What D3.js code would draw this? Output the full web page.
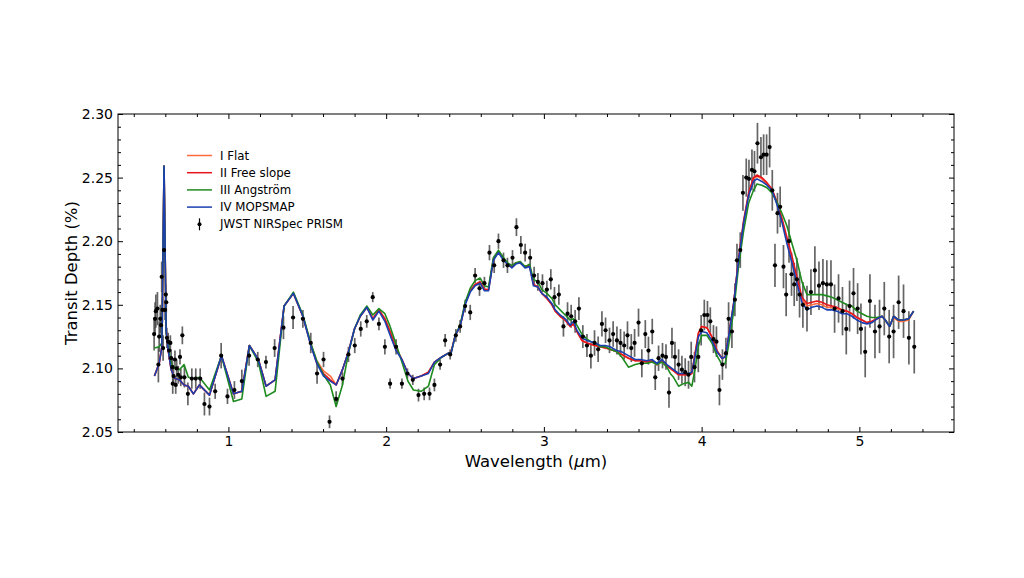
<!DOCTYPE html>
<html>
<head>
<meta charset="utf-8">
<script src="https://cdn.jsdelivr.net/npm/d3@7"></script>
<style>
    body { margin: 0; background: #fff; }
    #chart { width: 1024px; height: 578px; }
    .axis text { font-family: "DejaVu Sans", sans-serif; font-size: 14px; fill: #000; }
    .axis path, .axis line { stroke: #000; }
    .label { font-family: "DejaVu Sans", sans-serif; font-size: 16.5px; fill: #000; }
    .legend text { font-family: "DejaVu Sans", sans-serif; font-size: 11.8px; fill: #000; }
</style>
</head>
<body>
<div id="chart"></div>
<script>

// JWST NIRSpec PRISM data
let dataWave = [
    0.529,0.535,0.540,0.550,0.556,0.561,0.568,0.573,0.577,0.582,
    0.586,0.592,0.598,0.603,0.606,0.610,0.618,0.624,0.632,0.637,
    0.645,0.647,0.652,0.661,0.666,0.672,0.682,0.693,0.698,0.708,
    0.721,0.743,0.768,0.793,0.821,0.848,0.880,0.916,0.954,0.994,
    1.038,1.085,1.131,1.186,1.238,1.293,1.349,1.410,1.472,1.522,
    1.562,1.603,1.641,1.683,1.723,1.761,1.801,1.839,1.877,1.915,
    1.954,1.992,2.025,2.063,2.100,2.135,2.169,2.205,2.241,2.275,
    2.306,2.342,2.374,2.406,2.442,2.469,2.501,2.533,2.564,2.592,
    2.623,2.655,2.685,2.712,2.744,2.769,2.801,2.826,2.854,2.881,
    2.913,2.938,2.962,2.991,3.019,3.044,3.067,3.095,3.124,3.150,
    3.173,3.198,3.222,3.247,3.273,3.298,3.321,3.344,3.368,3.391,
    3.416,3.439,3.463,3.486,3.509,3.530,3.554,3.575,3.600,3.621,
    3.643,3.663,3.687,3.706,3.727,3.752,3.774,3.793,3.812,3.831,
    3.854,3.875,3.896,3.917,3.934,3.955,3.979,3.997,4.017,4.037,
    4.055,4.075,4.094,4.113,4.132,4.154,4.171,4.192,4.211,4.224,
    4.245,4.262,4.283,4.300,4.319,4.335,4.354,4.376,4.393,4.412,
    4.431,4.448,4.465,4.481,4.498,4.519,4.536,4.554,4.570,4.587,
    4.604,4.621,4.642,4.668,4.693,4.718,4.744,4.769,4.794,4.820,
    4.843,4.868,4.893,4.917,4.938,4.963,4.989,5.010,5.037,5.067,
    5.099,5.128,5.158,5.189,5.217,5.249,5.280,5.314,5.348
];
let dataDepth = [
    2.127,2.139,2.145,2.147,2.103,2.125,2.139,2.134,2.172,2.146,
    2.116,2.193,2.146,2.158,2.152,2.124,2.121,2.114,2.120,2.108,
    2.101,2.088,2.094,2.107,2.087,2.100,2.095,2.109,2.093,2.126,
    2.093,2.080,2.092,2.092,2.092,2.072,2.070,2.082,2.110,2.078,
    2.083,2.090,2.110,2.107,2.105,2.116,2.132,2.140,2.139,2.120,
    2.096,2.107,2.058,2.076,2.092,2.111,2.118,2.131,2.137,2.156,
    2.135,2.117,2.088,2.117,2.088,2.096,2.091,2.079,2.080,2.080,
    2.087,2.103,2.122,2.111,2.126,2.133,2.149,2.144,2.173,2.163,
    2.167,2.191,2.181,2.200,2.185,2.181,2.187,2.211,2.197,2.191,
    2.187,2.173,2.168,2.167,2.162,2.170,2.156,2.158,2.133,2.143,
    2.141,2.137,2.147,2.125,2.118,2.110,2.120,2.115,2.135,2.130,
    2.122,2.127,2.122,2.120,2.118,2.126,2.116,2.120,2.136,2.104,
    2.127,2.114,2.129,2.093,2.108,2.110,2.109,2.081,2.120,2.109,
    2.103,2.099,2.097,2.095,2.109,2.101,2.109,2.130,2.142,2.142,
    2.137,2.123,2.121,2.083,2.103,2.112,2.139,2.129,2.154,2.185,
    2.193,2.238,2.250,2.249,2.256,2.255,2.277,2.266,2.268,2.268,
    2.274,2.240,2.181,2.222,2.227,2.180,2.158,2.200,2.174,2.166,
    2.170,2.158,2.150,2.147,2.160,2.177,2.165,2.167,2.166,2.166,
    2.147,2.155,2.145,2.131,2.149,2.159,2.147,2.131,2.113,2.153,
    2.129,2.133,2.147,2.125,2.129,2.152,2.145,2.124,2.117
];
let dataErr = [
    0.013,0.013,0.013,0.013,0.014,0.012,0.011,0.010,0.012,0.010,
    0.010,0.010,0.008,0.008,0.008,0.008,0.007,0.007,0.006,0.007,
    0.006,0.008,0.007,0.007,0.007,0.007,0.007,0.006,0.007,0.007,
    0.008,0.009,0.008,0.008,0.008,0.009,0.007,0.006,0.010,0.006,
    0.007,0.009,0.008,0.006,0.005,0.007,0.009,0.009,0.007,0.008,
    0.008,0.006,0.005,0.006,0.005,0.006,0.006,0.006,0.005,0.004,
    0.005,0.006,0.004,0.006,0.004,0.004,0.004,0.005,0.005,0.005,
    0.005,0.004,0.005,0.004,0.005,0.005,0.005,0.006,0.006,0.006,
    0.005,0.006,0.006,0.006,0.006,0.006,0.006,0.007,0.007,0.007,
    0.007,0.007,0.007,0.007,0.007,0.008,0.008,0.008,0.008,0.009,
    0.009,0.009,0.009,0.009,0.009,0.010,0.010,0.010,0.010,0.010,
    0.010,0.010,0.011,0.011,0.011,0.011,0.011,0.011,0.011,0.011,
    0.011,0.011,0.010,0.010,0.010,0.010,0.010,0.012,0.012,0.012,
    0.012,0.011,0.011,0.011,0.012,0.012,0.012,0.012,0.012,0.011,
    0.011,0.011,0.012,0.012,0.012,0.012,0.013,0.013,0.013,0.013,
    0.014,0.014,0.015,0.015,0.016,0.016,0.016,0.016,0.016,0.016,
    0.016,0.016,0.017,0.016,0.016,0.017,0.017,0.017,0.017,0.017,
    0.017,0.018,0.018,0.018,0.018,0.019,0.019,0.019,0.019,0.019,
    0.019,0.019,0.019,0.020,0.020,0.020,0.020,0.020,0.020,0.021,
    0.021,0.021,0.021,0.021,0.021,0.021,0.021,0.021,0.021
];

// model grid
let modelWave = [
    0.531,0.561,0.578,0.592,0.605,0.620,0.637,0.662,0.689,0.719,
    0.746,0.778,0.816,0.880,0.956,1.032,1.085,1.133,1.190,1.239,
    1.296,1.353,1.412,1.472,1.522,1.560,1.603,1.646,1.683,1.723,
    1.761,1.799,1.836,1.878,1.916,1.954,1.992,2.025,2.063,2.100,
    2.138,2.173,2.222,2.268,2.306,2.353,2.395,2.412,2.438,2.469,
    2.501,2.533,2.564,2.596,2.623,2.649,2.680,2.712,2.744,2.769,
    2.797,2.822,2.850,2.881,2.909,2.934,2.962,2.987,3.019,3.051,
    3.072,3.103,3.135,3.167,3.188,3.209,3.241,3.273,3.298,3.325,
    3.357,3.389,3.420,3.463,3.494,3.536,3.579,3.611,3.653,3.685,
    3.717,3.748,3.780,3.801,3.822,3.854,3.885,3.917,3.938,3.959,
    3.980,4.001,4.033,4.065,4.097,4.129,4.150,4.171,4.203,4.234,
    4.266,4.298,4.329,4.351,4.382,4.414,4.446,4.477,4.509,4.541,
    4.573,4.604,4.636,4.668,4.699,4.731,4.763,4.794,4.826,4.858,
    4.890,4.922,4.953,4.985,5.017,5.048,5.080,5.112,5.144,5.164,
    5.192,5.217,5.249,5.280,5.312,5.344
];
let flatModel = [
    2.094,2.104,2.117,2.259,2.130,2.113,2.099,2.092,2.091,2.087,
    2.086,2.080,2.087,2.079,2.110,2.080,2.082,2.118,2.107,2.086,
    2.091,2.149,2.159,2.141,2.119,2.106,2.098,2.094,2.087,2.099,
    2.113,2.131,2.141,2.148,2.139,2.146,2.139,2.129,2.116,2.107,
    2.096,2.092,2.094,2.097,2.105,2.109,2.112,2.113,2.126,2.133,
    2.151,2.161,2.166,2.168,2.162,2.162,2.186,2.192,2.186,2.182,
    2.180,2.183,2.183,2.180,2.181,2.166,2.164,2.159,2.155,2.150,
    2.145,2.141,2.138,2.133,2.135,2.129,2.122,2.120,2.119,2.118,
    2.117,2.116,2.115,2.113,2.111,2.108,2.106,2.106,2.105,2.106,
    2.103,2.106,2.102,2.100,2.098,2.095,2.095,2.095,2.096,2.112,
    2.128,2.133,2.132,2.125,2.114,2.108,2.109,2.125,2.151,2.186,
    2.215,2.237,2.249,2.251,2.249,2.245,2.241,2.230,2.217,2.201,
    2.186,2.170,2.154,2.149,2.150,2.151,2.150,2.148,2.148,2.147,
    2.146,2.145,2.143,2.140,2.138,2.136,2.137,2.139,2.141,2.138,
    2.133,2.140,2.137,2.137,2.138,2.145
];
let slopeModel = [
    2.094,2.104,2.117,2.259,2.130,2.113,2.099,2.092,2.091,2.087,
    2.086,2.080,2.087,2.079,2.110,2.080,2.082,2.118,2.107,2.086,
    2.091,2.149,2.159,2.141,2.119,2.104,2.096,2.091,2.087,2.099,
    2.113,2.131,2.141,2.148,2.139,2.146,2.139,2.129,2.116,2.107,
    2.096,2.092,2.094,2.097,2.105,2.109,2.112,2.113,2.126,2.133,
    2.151,2.161,2.166,2.168,2.162,2.162,2.186,2.192,2.186,2.182,
    2.180,2.183,2.183,2.180,2.181,2.166,2.164,2.159,2.155,2.150,
    2.145,2.141,2.138,2.133,2.135,2.129,2.122,2.120,2.119,2.118,
    2.117,2.116,2.115,2.113,2.111,2.108,2.106,2.106,2.105,2.106,
    2.103,2.106,2.102,2.100,2.098,2.095,2.095,2.095,2.096,2.112,
    2.128,2.133,2.132,2.125,2.114,2.108,2.109,2.125,2.151,2.186,
    2.216,2.238,2.250,2.252,2.250,2.246,2.241,2.231,2.218,2.203,
    2.188,2.172,2.156,2.151,2.152,2.153,2.152,2.150,2.149,2.148,
    2.146,2.145,2.143,2.140,2.138,2.136,2.137,2.139,2.141,2.138,
    2.133,2.141,2.138,2.138,2.139,2.145
];
let angstromModel = [
    2.116,2.117,2.120,2.259,2.128,2.117,2.104,2.100,2.099,2.103,
    2.093,2.092,2.093,2.083,2.110,2.074,2.076,2.118,2.105,2.078,
    2.082,2.149,2.160,2.142,2.120,2.106,2.095,2.087,2.070,2.087,
    2.112,2.131,2.142,2.149,2.142,2.147,2.143,2.133,2.119,2.105,
    2.090,2.083,2.082,2.086,2.103,2.109,2.112,2.112,2.126,2.134,
    2.152,2.163,2.169,2.171,2.165,2.164,2.187,2.193,2.187,2.183,
    2.181,2.183,2.184,2.180,2.182,2.170,2.168,2.162,2.159,2.155,
    2.150,2.146,2.142,2.138,2.139,2.134,2.127,2.123,2.121,2.120,
    2.117,2.117,2.115,2.113,2.109,2.101,2.103,2.104,2.104,2.105,
    2.103,2.105,2.101,2.096,2.093,2.086,2.088,2.089,2.086,2.100,
    2.118,2.126,2.126,2.120,2.110,2.103,2.104,2.118,2.145,2.180,
    2.208,2.230,2.240,2.245,2.244,2.242,2.238,2.231,2.222,2.212,
    2.198,2.185,2.168,2.158,2.158,2.158,2.158,2.157,2.156,2.154,
    2.152,2.150,2.149,2.145,2.143,2.141,2.140,2.140,2.141,2.138,
    2.133,2.141,2.138,2.138,2.139,2.145
];
let mopsmapModel = [
    2.094,2.104,2.117,2.259,2.130,2.113,2.099,2.092,2.091,2.087,
    2.086,2.080,2.087,2.079,2.110,2.080,2.082,2.118,2.107,2.086,
    2.091,2.149,2.159,2.141,2.118,2.104,2.094,2.090,2.087,2.099,
    2.113,2.131,2.141,2.148,2.138,2.145,2.137,2.126,2.114,2.107,
    2.096,2.092,2.094,2.096,2.105,2.109,2.112,2.112,2.126,2.133,
    2.150,2.160,2.165,2.167,2.161,2.161,2.185,2.191,2.185,2.182,
    2.179,2.182,2.183,2.179,2.180,2.165,2.164,2.159,2.156,2.151,
    2.146,2.142,2.139,2.134,2.137,2.130,2.124,2.122,2.121,2.120,
    2.118,2.118,2.117,2.114,2.113,2.110,2.107,2.107,2.106,2.107,
    2.104,2.107,2.103,2.101,2.099,2.096,2.096,2.096,2.097,2.110,
    2.125,2.129,2.128,2.122,2.113,2.108,2.109,2.125,2.151,2.185,
    2.214,2.236,2.247,2.249,2.247,2.244,2.240,2.229,2.215,2.198,
    2.183,2.167,2.152,2.146,2.148,2.149,2.148,2.146,2.146,2.145,
    2.143,2.143,2.141,2.138,2.136,2.135,2.136,2.139,2.141,2.138,
    2.133,2.141,2.138,2.138,2.139,2.145
];

let seriesNames = ["I Flat", "II Free slope", "III Angstr\u00f6m", "IV MOPSMAP"];
let seriesColors = ["#ff6a3d", "#e8141c", "#1f8a1f", "#1a3fb0"];
let seriesValues = [flatModel, slopeModel, angstromModel, mopsmapModel];
let xTicks = [1, 2, 3, 4, 5];
let yTicks = [2.05, 2.10, 2.15, 2.20, 2.25, 2.30];

let margin = {top: 114, right: 70, bottom: 146, left: 118};
let width = 1024 - margin.left - margin.right;
let height = 578 - margin.top - margin.bottom;

let svg = d3.select("#chart").append("svg")
    .attr("width", 1024)
    .attr("height", 578)
    .append("g")
    .attr("transform", "translate(" + margin.left + "," + margin.top + ")");

let x = d3.scaleLinear().domain([0.3, 5.6]).range([0, width]);
let y = d3.scaleLinear().domain([2.05, 2.30]).range([height, 0]);

let xMinor = d3.range(0.4, 5.6, 0.2).filter(v => Math.abs(v - Math.round(v)) > 0.01);
let yMinor = d3.range(2.05, 2.30, 0.01).filter(v => Math.abs(v * 20 - Math.round(v * 20)) > 0.01);

// axes, ticks inward on all sides
svg.append("g").attr("class", "axis")
    .attr("transform", "translate(0," + height + ")")
    .call(d3.axisBottom(x).tickValues(xTicks).tickFormat(d3.format("d")).tickSizeInner(-5).tickSizeOuter(0).tickPadding(4))
    .call(g => g.select(".domain").remove());
svg.append("g").attr("class", "axis")
    .attr("transform", "translate(0," + height + ")")
    .call(d3.axisBottom(x).tickValues(xMinor).tickFormat("").tickSizeInner(-3).tickSizeOuter(0))
    .call(g => g.select(".domain").remove());
svg.append("g").attr("class", "axis")
    .call(d3.axisTop(x).tickValues(xTicks).tickFormat("").tickSizeInner(-5).tickSizeOuter(0))
    .call(g => g.select(".domain").remove());
svg.append("g").attr("class", "axis")
    .call(d3.axisTop(x).tickValues(xMinor).tickFormat("").tickSizeInner(-3).tickSizeOuter(0))
    .call(g => g.select(".domain").remove());

svg.append("g").attr("class", "axis")
    .call(d3.axisLeft(y).tickValues(yTicks).tickFormat(d3.format(".2f")).tickSizeInner(-5).tickSizeOuter(0).tickPadding(5))
    .call(g => g.select(".domain").remove());
svg.append("g").attr("class", "axis")
    .call(d3.axisLeft(y).tickValues(yMinor).tickFormat("").tickSizeInner(-3).tickSizeOuter(0))
    .call(g => g.select(".domain").remove());
svg.append("g").attr("class", "axis")
    .attr("transform", "translate(" + width + ",0)")
    .call(d3.axisRight(y).tickValues(yTicks).tickFormat("").tickSizeInner(-5).tickSizeOuter(0))
    .call(g => g.select(".domain").remove());
svg.append("g").attr("class", "axis")
    .attr("transform", "translate(" + width + ",0)")
    .call(d3.axisRight(y).tickValues(yMinor).tickFormat("").tickSizeInner(-3).tickSizeOuter(0))
    .call(g => g.select(".domain").remove());

// error bars + points
let pts = dataWave.map((w, i) => ({w: w, d: dataDepth[i], e: dataErr[i]}));

svg.append("g").selectAll("line")
    .data(pts).enter().append("line")
    .attr("x1", d => x(d.w)).attr("x2", d => x(d.w))
    .attr("y1", d => y(d.d - d.e)).attr("y2", d => y(d.d + d.e))
    .attr("stroke", "#4a4a4a")
    .attr("stroke-opacity", 0.85)
    .attr("stroke-width", 1.7);

// model lines
let line = d3.line()
    .x((d, i) => x(modelWave[i]))
    .y(d => y(d));

seriesValues.forEach(function(vals, k) {
    svg.append("path")
        .datum(vals)
        .attr("fill", "none")
        .attr("stroke", seriesColors[k])
        .attr("stroke-width", 1.6)
        .attr("stroke-linejoin", "round")
        .attr("d", line);
});

svg.append("g").selectAll("circle")
    .data(pts).enter().append("circle")
    .attr("cx", d => x(d.w)).attr("cy", d => y(d.d))
    .attr("r", 2.1)
    .attr("fill", "#000");

// frame
svg.append("rect")
    .attr("width", width).attr("height", height)
    .attr("fill", "none").attr("stroke", "#000").attr("stroke-width", 1);

// axis labels
svg.append("text").attr("class", "label")
    .attr("x", width / 2).attr("y", height + 35)
    .attr("text-anchor", "middle")
    .html("Wavelength (<tspan font-style='italic'>\u03bc</tspan>m)");

svg.append("text").attr("class", "label")
    .attr("transform", "translate(" + (-41) + "," + (height / 2) + ") rotate(-90)")
    .attr("text-anchor", "middle")
    .text("Transit Depth (%)");

// legend
let legend = svg.append("g").attr("class", "legend")
    .attr("transform", "translate(69,41.5)");

seriesNames.forEach(function(name, k) {
    let row = legend.append("g").attr("transform", "translate(0," + (k * 17.2) + ")");
    row.append("line").attr("x1", 0).attr("x2", 25).attr("y1", 0).attr("y2", 0)
        .attr("stroke", seriesColors[k]).attr("stroke-width", 1.5);
    row.append("text").attr("x", 33).attr("y", 4).text(name);
});
let eb = legend.append("g").attr("transform", "translate(0," + (4 * 17.2) + ")");
eb.append("line").attr("x1", 12.5).attr("x2", 12.5).attr("y1", -6).attr("y2", 6)
    .attr("stroke", "#000").attr("stroke-width", 1.2);
eb.append("circle").attr("cx", 12.5).attr("cy", 0).attr("r", 2).attr("fill", "#000");
eb.append("text").attr("x", 33).attr("y", 4).text("JWST NIRSpec PRISM");

</script>
</body>
</html>
